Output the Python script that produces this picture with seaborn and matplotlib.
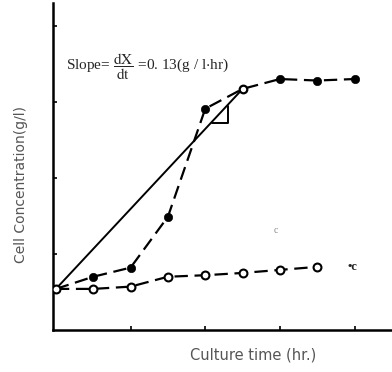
import numpy as np
import pandas as pd
import seaborn as sns
import matplotlib.pyplot as plt

# Culture time (hr.) and cell concentration (g/l)
time = [0, 2, 4, 6, 8, 10, 12, 14, 16]
filled_conc = [0.54, 0.70, 0.82, 1.49, 2.91, 3.17, 3.30, 3.28, 3.30]
open_time = [0, 2, 4, 6, 8, 10, 12, 14]
open_conc = [0.54, 0.54, 0.57, 0.70, 0.72, 0.75, 0.79, 0.83]

# tangent line and the little slope triangle
slope_x = [0, 10]
slope_y = [0.54, 3.17]
tri_x = [8.35, 9.2, 9.2]
tri_y = [2.72, 2.72, 2.95]

x_ticks = [4, 8, 12, 16]
y_ticks = [1, 2, 3, 4]

sns.set_style("white")
plt.rcParams['font.family'] = ['Liberation Serif', 'DejaVu Serif']
plt.rcParams['mathtext.fontset'] = 'stix'

fig = plt.figure(figsize=(3.92, 3.72), dpi=100)
ax = fig.add_axes([0.135, 0.113, 0.865, 0.879])

df_f = pd.DataFrame({'t': time, 'x': filled_conc})
df_o = pd.DataFrame({'t': open_time, 'x': open_conc})

# dashed curves
sns.lineplot(data=df_f, x='t', y='x', ax=ax, color='black', lw=1.6,
             linestyle=(0, (6, 3)))
sns.lineplot(data=df_o, x='t', y='x', ax=ax, color='black', lw=1.6,
             linestyle=(0, (6, 3)))

# tangent line + triangle
ax.plot(slope_x, slope_y, color='black', lw=1.4)
ax.plot(tri_x, tri_y, color='black', lw=1.4)

# markers
sns.scatterplot(data=df_f.drop(index=5), x='t', y='x', ax=ax, color='black',
                s=36, edgecolor='black', zorder=5)
sns.scatterplot(data=df_f.loc[[5]], x='t', y='x', ax=ax, color='white',
                s=30, edgecolor='black', linewidth=1.6, zorder=5)
sns.scatterplot(data=df_o, x='t', y='x', ax=ax, color='white',
                s=32, edgecolor='black', linewidth=1.5, zorder=5)

ax.text(0.55, 3.46, r"Slope= $\dfrac{\mathrm{dX}}{\mathrm{dt}}$ =0. 13(g / l$\cdot$hr)",
        fontsize=11, va='center', ha='left')
ax.text(15.6, 0.83, "\u2022c", fontsize=9, va='center', ha='left', fontweight='bold')
ax.text(11.8, 1.31, "c", fontsize=7, va='center', ha='center', color='#888888')

ax.set_xlim(-0.16, 18.0)
ax.set_ylim(0, 4.3)
ax.set_xticks(x_ticks)
ax.set_yticks(y_ticks)
ax.set_xticklabels([])
ax.set_yticklabels([])
ax.tick_params(direction='in', length=3, width=1.2, color='black')
ax.tick_params(axis='both', which='both', bottom=True, left=True)
sns.despine(ax=ax)
for s in ['left', 'bottom']:
    ax.spines[s].set_linewidth(1.8)
    ax.spines[s].set_color('black')

ax.set_xlabel('')
ax.set_ylabel('')
fig.text(0.054, 0.505, "Cell Concentration(g/l)", rotation=90, fontsize=10,
         family=['DejaVu Sans'], va='center', ha='center', color='#555555')
fig.text(0.645, 0.045, "Culture time (hr.)", fontsize=10.5,
         family=['DejaVu Sans'], va='center', ha='center', color='#555555')

fig.savefig('out.png', dpi=100)
